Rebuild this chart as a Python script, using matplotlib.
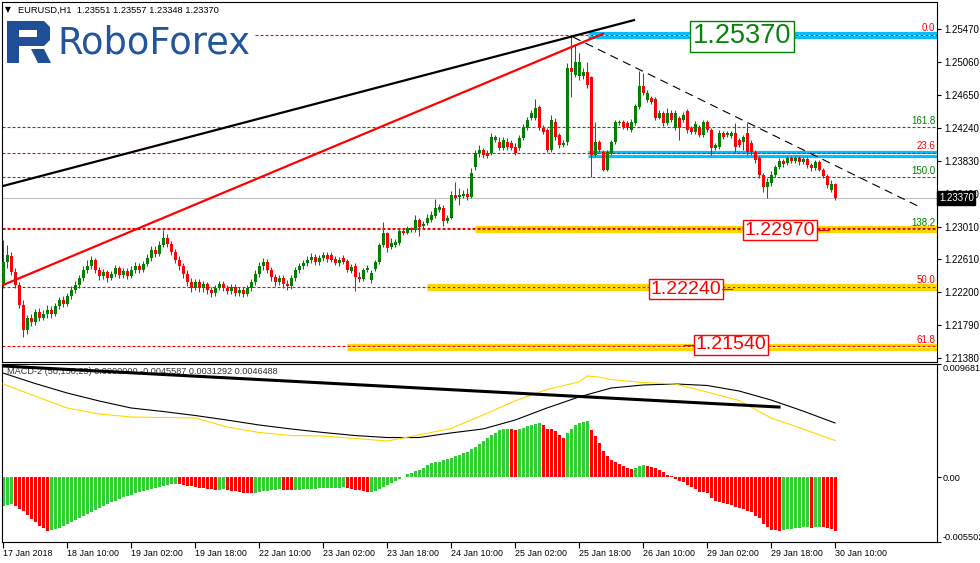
import numpy as np
import matplotlib.pyplot as plt
from matplotlib.path import Path
from matplotlib.patches import PathPatch
import matplotlib.transforms as mtransforms

plt.rcParams['font.family'] = ['Liberation Sans', 'DejaVu Sans']
plt.rcParams['lines.scale_dashes'] = False

# EURUSD H1, one candle per hour from 17 Jan 18:00 to 30 Jan 10:00
opens = [
    1.2229, 1.2258, 1.2265, 1.2245, 1.2229, 1.2204, 1.2173, 1.2188, 1.2183, 1.2196,
    1.2188, 1.2193, 1.2198, 1.2193, 1.2203, 1.2210, 1.2205, 1.2215, 1.2223, 1.2229,
    1.2238, 1.2248, 1.2253, 1.2260, 1.2248, 1.2240, 1.2245, 1.2238, 1.2243, 1.2250,
    1.2241, 1.2246, 1.2240, 1.2248, 1.2253, 1.2248, 1.2255, 1.2263, 1.2272, 1.2268,
    1.2279, 1.2287, 1.2280, 1.2270, 1.2260, 1.2253, 1.2243, 1.2233, 1.2225, 1.2233,
    1.2225, 1.2230, 1.2223, 1.2219, 1.2225, 1.2230, 1.2225, 1.2222, 1.2227, 1.2219,
    1.2223, 1.2218, 1.2225, 1.2233, 1.2243, 1.2253, 1.2258, 1.2248, 1.2239, 1.2233,
    1.2238, 1.2230, 1.2228, 1.2238, 1.2248, 1.2253, 1.2256, 1.2260, 1.2264, 1.2258,
    1.2263, 1.2266, 1.2266, 1.2261, 1.2256, 1.2263, 1.2259, 1.2246, 1.2253, 1.2239,
    1.2237, 1.2248, 1.2235, 1.2249, 1.2258, 1.2279, 1.2294, 1.2276, 1.2279, 1.2281,
    1.2296, 1.2294, 1.2300, 1.2297, 1.2310, 1.2302, 1.2306, 1.2310, 1.2315, 1.2322,
    1.2325, 1.2309, 1.2312, 1.2341, 1.2338, 1.2340, 1.2342, 1.2338, 1.2376, 1.2393,
    1.2397, 1.2393, 1.2393, 1.2409, 1.2407, 1.2399, 1.2407, 1.2405, 1.2400, 1.2399,
    1.2412, 1.2424, 1.2436, 1.2436, 1.2450, 1.2424, 1.2422, 1.2397, 1.2432, 1.2415,
    1.2403, 1.2407, 1.2499, 1.2490, 1.2488, 1.2488, 1.2494, 1.2487, 1.2390, 1.2407,
    1.2394, 1.2372, 1.2393, 1.2407, 1.2430, 1.2431, 1.2430, 1.2422, 1.2430, 1.2450,
    1.2476, 1.2459, 1.2461, 1.2460, 1.2437, 1.2443, 1.2430, 1.2443, 1.2424, 1.2436,
    1.2434, 1.2445, 1.2424, 1.2419, 1.2425, 1.2415, 1.2431, 1.2422, 1.2399, 1.2400,
    1.2418, 1.2415, 1.2414, 1.2418, 1.2409, 1.2407, 1.2418, 1.2405, 1.2394, 1.2387,
    1.2366, 1.2351, 1.2356, 1.2366, 1.2376, 1.2383, 1.2381, 1.2387, 1.2383, 1.2387,
    1.2382, 1.2386, 1.2378, 1.2374, 1.2382, 1.2372, 1.2365, 1.2347, 1.2355]
highs = [
    1.2285, 1.2279, 1.2270, 1.2250, 1.2233, 1.2210, 1.2192, 1.2193, 1.2199, 1.2200,
    1.2198, 1.2204, 1.2203, 1.2207, 1.2214, 1.2215, 1.2219, 1.2228, 1.2234, 1.2241,
    1.2253, 1.2260, 1.2265, 1.2263, 1.2251, 1.2249, 1.2248, 1.2246, 1.2254, 1.2253,
    1.2250, 1.2250, 1.2253, 1.2258, 1.2256, 1.2259, 1.2268, 1.2277, 1.2277, 1.2284,
    1.2297, 1.2292, 1.2284, 1.2274, 1.2265, 1.2256, 1.2248, 1.2238, 1.2237, 1.2237,
    1.2234, 1.2233, 1.2227, 1.2229, 1.2234, 1.2234, 1.2229, 1.2230, 1.2230, 1.2227,
    1.2227, 1.2229, 1.2237, 1.2248, 1.2258, 1.2263, 1.2261, 1.2251, 1.2243, 1.2241,
    1.2241, 1.2235, 1.2241, 1.2251, 1.2256, 1.2260, 1.2265, 1.2269, 1.2268, 1.2266,
    1.2270, 1.2270, 1.2270, 1.2265, 1.2264, 1.2266, 1.2261, 1.2255, 1.2256, 1.2245,
    1.2250, 1.2254, 1.2248, 1.2260, 1.2281, 1.2307, 1.2295, 1.2287, 1.2286, 1.2299,
    1.2299, 1.2302, 1.2301, 1.2316, 1.2312, 1.2309, 1.2317, 1.2321, 1.2336, 1.2330,
    1.2328, 1.2316, 1.2346, 1.2357, 1.2350, 1.2347, 1.2350, 1.2374, 1.2397, 1.2403,
    1.2399, 1.2397, 1.2418, 1.2415, 1.2413, 1.2413, 1.2412, 1.2409, 1.2405, 1.2415,
    1.2429, 1.2438, 1.2446, 1.2460, 1.2453, 1.2428, 1.2424, 1.2440, 1.2436, 1.2418,
    1.2409, 1.2505, 1.2540, 1.2527, 1.2517, 1.2499, 1.2506, 1.2489, 1.2431, 1.2409,
    1.2397, 1.2397, 1.2409, 1.2434, 1.2434, 1.2434, 1.2433, 1.2435, 1.2454, 1.2495,
    1.2492, 1.2471, 1.2464, 1.2462, 1.2446, 1.2445, 1.2449, 1.2446, 1.2446, 1.2439,
    1.2444, 1.2448, 1.2427, 1.2433, 1.2428, 1.2434, 1.2434, 1.2424, 1.2405, 1.2422,
    1.2420, 1.2420, 1.2420, 1.2430, 1.2412, 1.2415, 1.2430, 1.2409, 1.2397, 1.2389,
    1.2368, 1.2362, 1.2370, 1.2378, 1.2387, 1.2386, 1.2389, 1.2389, 1.2389, 1.2389,
    1.2388, 1.2388, 1.2381, 1.2384, 1.2384, 1.2374, 1.2367, 1.2359, 1.2356]
lows = [
    1.2225, 1.2250, 1.2241, 1.2225, 1.2200, 1.2164, 1.2168, 1.2178, 1.2179, 1.2184,
    1.2186, 1.2188, 1.2188, 1.2191, 1.2199, 1.2202, 1.2203, 1.2212, 1.2219, 1.2225,
    1.2234, 1.2244, 1.2249, 1.2244, 1.2235, 1.2237, 1.2233, 1.2235, 1.2239, 1.2238,
    1.2238, 1.2237, 1.2238, 1.2244, 1.2244, 1.2245, 1.2253, 1.2259, 1.2264, 1.2265,
    1.2276, 1.2276, 1.2266, 1.2256, 1.2248, 1.2238, 1.2228, 1.2220, 1.2223, 1.2220,
    1.2220, 1.2218, 1.2214, 1.2215, 1.2223, 1.2222, 1.2218, 1.2218, 1.2215, 1.2215,
    1.2214, 1.2215, 1.2222, 1.2229, 1.2239, 1.2248, 1.2244, 1.2234, 1.2228, 1.2229,
    1.2225, 1.2223, 1.2224, 1.2234, 1.2244, 1.2249, 1.2253, 1.2256, 1.2254, 1.2254,
    1.2259, 1.2258, 1.2258, 1.2254, 1.2253, 1.2255, 1.2245, 1.2244, 1.2222, 1.2233,
    1.2234, 1.2245, 1.2231, 1.2246, 1.2255, 1.2276, 1.2270, 1.2274, 1.2276, 1.2279,
    1.2291, 1.2292, 1.2295, 1.2295, 1.2290, 1.2300, 1.2304, 1.2307, 1.2312, 1.2320,
    1.2302, 1.2306, 1.2311, 1.2335, 1.2328, 1.2337, 1.2335, 1.2337, 1.2372, 1.2388,
    1.2387, 1.2387, 1.2390, 1.2407, 1.2397, 1.2397, 1.2397, 1.2397, 1.2390, 1.2397,
    1.2409, 1.2422, 1.2434, 1.2434, 1.2422, 1.2417, 1.2394, 1.2394, 1.2409, 1.2399,
    1.2400, 1.2403, 1.2462, 1.2487, 1.2484, 1.2485, 1.2474, 1.2363, 1.2388, 1.2394,
    1.2370, 1.2370, 1.2390, 1.2404, 1.2428, 1.2423, 1.2422, 1.2419, 1.2428, 1.2448,
    1.2465, 1.2456, 1.2454, 1.2434, 1.2435, 1.2427, 1.2428, 1.2431, 1.2422, 1.2409,
    1.2431, 1.2418, 1.2417, 1.2417, 1.2413, 1.2413, 1.2419, 1.2390, 1.2397, 1.2398,
    1.2410, 1.2413, 1.2412, 1.2394, 1.2400, 1.2397, 1.2390, 1.2390, 1.2380, 1.2362,
    1.2345, 1.2337, 1.2352, 1.2363, 1.2373, 1.2376, 1.2378, 1.2380, 1.2380, 1.2378,
    1.2379, 1.2374, 1.2370, 1.2372, 1.2370, 1.2362, 1.2350, 1.2345, 1.2335]
closes = [
    1.2258, 1.2266, 1.2245, 1.2229, 1.2204, 1.2173, 1.2188, 1.2183, 1.2196, 1.2188,
    1.2193, 1.2198, 1.2193, 1.2203, 1.2210, 1.2205, 1.2215, 1.2223, 1.2229, 1.2238,
    1.2248, 1.2253, 1.2260, 1.2248, 1.2240, 1.2245, 1.2238, 1.2243, 1.2250, 1.2241,
    1.2246, 1.2240, 1.2248, 1.2253, 1.2248, 1.2255, 1.2263, 1.2272, 1.2268, 1.2279,
    1.2287, 1.2280, 1.2270, 1.2260, 1.2253, 1.2243, 1.2233, 1.2225, 1.2233, 1.2225,
    1.2230, 1.2223, 1.2219, 1.2225, 1.2230, 1.2225, 1.2222, 1.2227, 1.2219, 1.2223,
    1.2218, 1.2225, 1.2233, 1.2243, 1.2253, 1.2258, 1.2248, 1.2239, 1.2233, 1.2238,
    1.2230, 1.2228, 1.2238, 1.2248, 1.2253, 1.2256, 1.2260, 1.2264, 1.2258, 1.2263,
    1.2266, 1.2261, 1.2260, 1.2256, 1.2260, 1.2258, 1.2248, 1.2251, 1.2239, 1.2237,
    1.2248, 1.2250, 1.2244, 1.2258, 1.2279, 1.2294, 1.2275, 1.2281, 1.2282, 1.2296,
    1.2294, 1.2300, 1.2297, 1.2310, 1.2301, 1.2305, 1.2312, 1.2316, 1.2325, 1.2326,
    1.2309, 1.2312, 1.2341, 1.2337, 1.2341, 1.2342, 1.2338, 1.2368, 1.2393, 1.2397,
    1.2390, 1.2389, 1.2413, 1.2413, 1.2399, 1.2409, 1.2400, 1.2399, 1.2393, 1.2412,
    1.2425, 1.2434, 1.2443, 1.2449, 1.2424, 1.2419, 1.2397, 1.2434, 1.2413, 1.2403,
    1.2405, 1.2499, 1.2494, 1.2506, 1.2506, 1.2494, 1.2477, 1.2390, 1.2407, 1.2397,
    1.2372, 1.2394, 1.2407, 1.2431, 1.2431, 1.2425, 1.2424, 1.2431, 1.2451, 1.2476,
    1.2467, 1.2467, 1.2456, 1.2437, 1.2443, 1.2430, 1.2443, 1.2434, 1.2443, 1.2424,
    1.2440, 1.2422, 1.2419, 1.2429, 1.2415, 1.2431, 1.2422, 1.2399, 1.2403, 1.2418,
    1.2413, 1.2418, 1.2418, 1.2400, 1.2403, 1.2413, 1.2394, 1.2394, 1.2384, 1.2366,
    1.2351, 1.2357, 1.2366, 1.2376, 1.2383, 1.2379, 1.2387, 1.2383, 1.2387, 1.2382,
    1.2386, 1.2378, 1.2374, 1.2382, 1.2372, 1.2365, 1.2353, 1.2355, 1.2337]

# MACD-2 histogram, in units of 1e-4
macd_hist = [
    -24.0, -23.5, -23.0, -24.5, -26.5, -29.0, -32.0, -35.0, -38.0, -41.0, -43.5, -45.5,
    -45.0, -44.2, -43.0, -41.6, -40.0, -38.2, -36.5, -34.8, -33.0, -31.2, -29.5, -27.8,
    -26.0, -24.4, -22.8, -21.2, -19.8, -18.4, -17.0, -15.8, -14.6, -13.5, -12.4, -11.4,
    -10.4, -9.5, -8.6, -7.8, -7.0, -6.3, -5.7, -5.2,
    -5.6, -6.2, -6.9, -7.6, -8.2, -8.8, -9.3, -9.8, -10.2, -10.6,
    -10.3, -10.1,
    -10.6, -11.2, -11.8, -12.3, -12.8, -13.2, -13.6,
    -13.2, -12.6, -11.9, -11.3, -10.8, -10.4, -10.1,
    -10.4, -10.7, -11.0,
    -10.8, -10.5, -10.2, -9.9, -9.6, -9.4, -9.2, -9.0, -8.9, -8.8, -8.7, -8.6, -8.5,
    -9.0, -9.6, -10.3, -11.0, -11.8, -12.4,
    -12.2, -11.2, -9.8, -8.2, -6.6, -5.0, -3.2, -1.5, 0.4,
    2.7, 4.0, 5.5, 6.8, 8.1, 10.5, 12.6, 13.0, 13.4, 14.5, 15.5, 16.5, 18.0, 19.3, 20.5,
    22.0, 24.0, 25.8, 28.5, 31.1, 33.5, 36.3, 38.0, 40.2, 41.4, 41.5,
    41.3, 40.5, 41.2, 42.5, 43.5, 44.5, 45.6, 46.2,
    44.8, 41.4, 41.2, 39.7, 36.3, 33.4,
    38.0, 41.4, 44.5, 46.2, 47.6, 47.8,
    40.5, 35.4, 29.4, 22.6, 18.6, 14.9, 13.2, 11.3, 10.1, 7.8, 7.3,
    8.3, 10.0, 10.7,
    9.8, 9.2, 8.4, 6.4, 4.4, 2.1, 1.3, -1.5, -2.7, -3.6, -6.4, -7.8, -10.1, -12.1,
    -12.6, -13.5, -17.2, -19.8, -21.2, -22.0, -22.9, -23.5, -25.4, -26.3, -26.9, -28.3,
    -29.7, -32.8, -34.8, -39.7, -42.0, -44.8, -45.2, -45.6, -44.8, -44.2, -43.7, -43.5,
    -42.8, -42.5, -42.0, -42.8, -42.0, -41.8, -42.2, -43.3, -44.2, -45.6]

# MACD lines read every few bars (1e-4 units)
macd_idx = [0, 8, 16, 24, 32, 40, 48, 56, 64, 72, 80, 88, 96, 104, 112, 120, 128,
            136, 144, 152, 160, 168, 176, 184, 192, 200, 208]
macd_line = [89.1, 80.2, 72.1, 65.3, 59.3, 56.3, 52.9, 49.0, 44.8, 41.4, 38.4, 35.8,
             34.1, 34.1, 38.0, 41.4, 49.0, 59.3, 68.7, 76.3, 78.9, 79.8, 78.5, 73.8,
             66.1, 56.7, 46.5]
sig_idx = [0, 8, 16, 24, 32, 40, 48, 56, 64, 72, 80, 88, 96, 104, 112, 120, 128, 136,
           144, 146, 149, 152, 160, 168, 176, 184, 192, 200, 208]
sig_line = [79.8, 69.5, 59.3, 54.2, 51.6, 51.2, 50.8, 43.1, 38.4, 35.8, 35.4, 33.3,
            31.1, 36.3, 41.8, 53.3, 65.3, 75.1, 81.5, 86.6, 85.7, 83.6, 81.0, 79.8,
            72.9, 65.7, 50.8, 41.4, 31.6]
macd_trend_idx = [0, 194]
macd_trend = [95.1, 60.1]

time_labels = ['17 Jan 2018', '18 Jan 10:00', '19 Jan 02:00', '19 Jan 18:00',
               '22 Jan 10:00', '23 Jan 02:00', '23 Jan 18:00', '24 Jan 10:00',
               '25 Jan 02:00', '25 Jan 18:00', '26 Jan 10:00', '29 Jan 02:00',
               '29 Jan 18:00', '30 Jan 10:00']
price_ticks = [1.2547, 1.2506, 1.2465, 1.2424, 1.2383, 1.2342, 1.2301, 1.2261,
               1.2220, 1.2179, 1.2138]

fib_levels = [1.2540, 1.2425, 1.2393, 1.2363, 1.2300, 1.2298, 1.2227, 1.2153]
fib_labels = ['0.0', '161.8', '23.6', '150.0', '', '138.2', '50.0', '61.8']
fib_colors = ['#ff0000', '#008000', '#ff0000', '#008000', '#ff0000', '#008000',
              '#ff0000', '#ff0000']

zone_levels = [1.2540, 1.2392, 1.2298, 1.2227, 1.2152]
zone_start = [146.25, 146.25, 118, 106, 86]
zone_colors = ['#00bfff', '#00bfff', '#ffd700', '#ffd700', '#ffd700']

last_price = 1.2337

W, H = 980, 563
fig = plt.figure(figsize=(W / 100, H / 100), dpi=100)
ax = fig.add_axes([2 / W, 1 - 362 / H, 935 / W, 360 / H])
ax2 = fig.add_axes([2 / W, 1 - 542 / H, 935 / W, 178 / H])
XR = 233.5

idx = np.arange(len(closes))
o = np.array(opens)
c = np.array(closes)
ccol = np.where(c >= o, '#008000', '#ff0000')

# price panel
ax.axhline(last_price, color='#c0c0c0', lw=0.8, zorder=1)
for p, s, col in zip(zone_levels, zone_start, zone_colors):
    ax.hlines(p, s, XR, color=col, lw=5.2, zorder=2)
    ax.hlines(p, s, XR, color='white', lw=0.8, zorder=2.1)
for p, lab, col in zip(fib_levels, fib_labels, fib_colors):
    x0 = 63 if lab == '0.0' else -0.25
    ax.hlines(p, x0, XR, color=col, lw=0.8, linestyles=(0, (2.2, 1.4)), zorder=2.5)
    if lab:
        ax.text(233.1, p + 0.0002, lab, color=col, fontsize=7, ha='right', va='bottom')

ax.vlines(idx, lows, highs, colors=ccol, lw=0.75, zorder=4)
ax.bar(idx, np.maximum(np.abs(c - o), 0.00004), bottom=np.minimum(o, c), width=0.75,
       color=ccol, lw=0, zorder=4)

ax.plot([0, 157.75], [1.2352, 1.2558], color='black', lw=1.6, zorder=5)
ax.plot([0, 150], [1.2229, 1.2541], color='#ff0000', lw=1.6, zorder=5)
ax.plot([142.5, 228.75], [1.2537, 1.2327], color='black', lw=0.8,
        ls=(0, (6, 4)), zorder=5)

ax.text(184.75, 1.2538, '1.25370', color='#0a820a', fontsize=19.5, ha='center',
        va='center', zorder=6,
        bbox=dict(boxstyle='square,pad=0.1', fc='white', ec='#008000', lw=1))
red_boxes = [(194.25, 1.2297, '1.22970'), (170.75, 1.2224, '1.22240'),
             (181.9, 1.2155, '1.21540')]
for bx, by, txt in red_boxes:
    ax.text(bx, by, txt, color='#ff0000', fontsize=14, ha='center', va='center',
            zorder=6, bbox=dict(boxstyle='square,pad=0.08', fc='white', ec='#ff0000', lw=1))
ax.plot([203.5, 206.5], [1.2297, 1.2297], color='#ff0000', lw=0.8, zorder=6)
ax.plot([179.8, 182.3], [1.2224, 1.2224], color='#ff0000', lw=0.8, zorder=6)
ax.plot([170.3, 172.8], [1.2154, 1.2154], color='#ff0000', lw=0.8, zorder=6)

ax.set_xlim(-0.25, XR)
ax.set_ylim(1.21334, 1.25805)
ax.set_xticks([])
ax.yaxis.tick_right()
ax.set_yticks(price_ticks)
ax.set_yticklabels(['%.5f' % t for t in price_ticks])
ax.tick_params(axis='y', direction='out', length=3, width=0.8, labelsize=7, pad=2)

trans = mtransforms.blended_transform_factory(ax.transAxes, ax.transData)
ax.text(1.002, last_price, '%.5f' % last_price, transform=trans, color='white',
        fontsize=7, ha='left', va='center', zorder=10, clip_on=False,
        bbox=dict(boxstyle='square,pad=0.18', fc='black', ec='black'))

# MACD panel
hist = np.array(macd_hist) * 1e-4
hcol = ['#32cd32'] + ['#32cd32' if hist[k] >= hist[k - 1] else '#ff0000'
                      for k in range(1, len(hist))]
ax2.bar(idx, hist, width=0.75, color=hcol, lw=0, zorder=2)
ax2.plot(macd_idx, np.array(macd_line) * 1e-4, color='black', lw=0.8, zorder=3)
ax2.plot(sig_idx, np.array(sig_line) * 1e-4, color='#ffd700', lw=0.8, zorder=3)
ax2.plot(macd_trend_idx, np.array(macd_trend) * 1e-4, color='black', lw=2.2, zorder=4)
ax2.text(7 / W, 1 - 371 / H, 'MACD-2 (50,150,25) 0.0000000 -0.0045587 0.0031292 0.0046488',
         transform=fig.transFigure, fontsize=6.6, color='#333333', va='center', zorder=1)

ax2.set_xlim(-0.25, XR)
ax2.set_ylim(-0.005502, 0.009681)
ax2.yaxis.tick_right()
ax2.set_yticks([0.009681, 0.0, -0.005502])
ax2.set_yticklabels(['0.009681', '0.00', '-0.005502'])
ylabs = ax2.get_yticklabels()
ylabs[0].set_va('top')
ylabs[2].set_va('bottom')
ax2.tick_params(axis='y', direction='out', length=3, width=0.8, labelsize=6.6, pad=1)
ax2.set_xticks(np.arange(0, 209, 16))
ax2.set_xticklabels(time_labels)
for t in ax2.get_xticklabels():
    t.set_ha('left')
ax2.tick_params(axis='x', direction='out', length=4, width=0.8, labelsize=6.4, pad=1)

for a in (ax, ax2):
    for sp in a.spines.values():
        sp.set_linewidth(0.8)

# header and logo
fig.text(5 / W, 1 - 10 / H, '\u25bc', fontsize=5.5, va='center', family='DejaVu Sans')
fig.text(18 / W, 1 - 10 / H, 'EURUSD,H1  1.23551 1.23557 1.23348 1.23370',
         fontsize=6.7, va='center')
fig.text(57 / W, 1 - 54 / H, 'RoboForex', fontsize=26.5, color='#22559c',
         family='DejaVu Sans', va='baseline')


def px(x, y):
    return (x / W, 1 - y / H)


verts = [px(7, 21), px(44, 21), px(50, 27), px(50, 40), px(44, 46), px(19, 46),
         px(19, 63), px(7, 63), px(7, 21),
         px(19, 30), px(19, 37), px(37, 37), px(37, 30), px(19, 30),
         px(31, 49), px(44, 49), px(51, 63), px(38, 63), px(31, 49)]
codes = ([Path.MOVETO] + [Path.LINETO] * 7 + [Path.CLOSEPOLY]) + \
        ([Path.MOVETO] + [Path.LINETO] * 3 + [Path.CLOSEPOLY]) * 2
fig.add_artist(PathPatch(Path(verts, codes), transform=fig.transFigure,
                         fc='#1f4f96', ec='none'))

fig.savefig('out.png', dpi=100)
